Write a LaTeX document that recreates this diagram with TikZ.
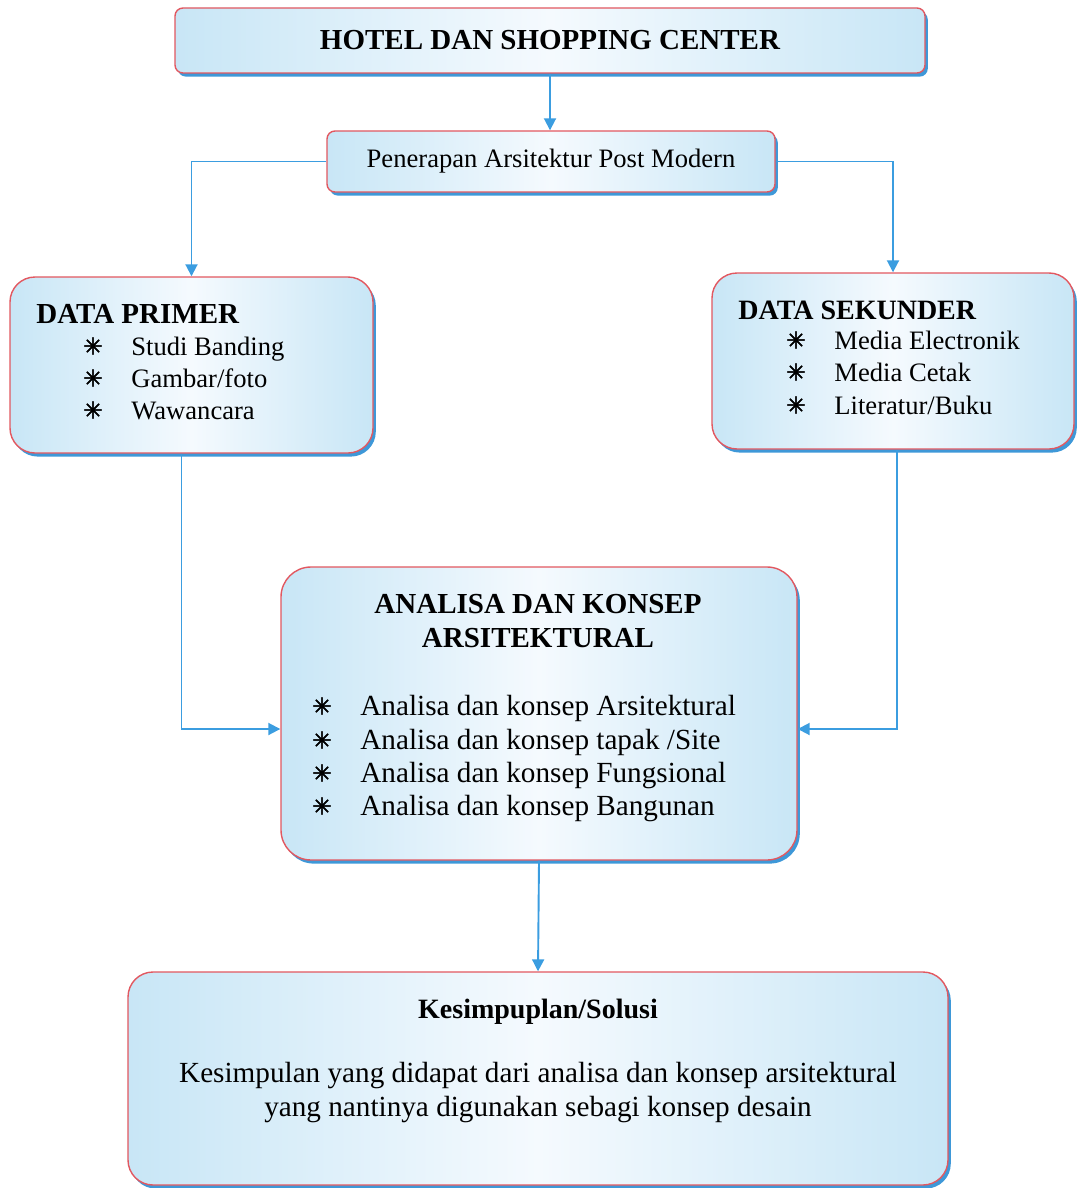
\documentclass[tikz,border=0pt]{standalone}
\usepackage{fontspec}
\setmainfont{Liberation Serif}
\newfontfamily\symfont[FakeBold=2.5]{DejaVu Sans}
\usepackage{tikz}
\usetikzlibrary{arrows.meta,shapes,shadows}
\usetikzlibrary{positioning}
\definecolor{boxblue}{RGB}{200,230,246}
\definecolor{boxwhite}{RGB}{245,250,254}
\definecolor{edgered}{RGB}{226,88,96}
\definecolor{shadeblue}{RGB}{62,152,216}
\definecolor{lineblue}{RGB}{59,157,224}
\newcommand{\bulstar}{{\symfont\fontsize{11.5}{11.5}\selectfont ✳}}

\begin{document}
\begin{tikzpicture}[x=0.5pt, y=-0.5pt]
\tikzstyle{box} = [rectangle, draw = edgered, line width=0.7pt, inner sep=0pt, left color=boxblue, right color=boxblue, middle color=boxwhite, drop shadow={shadow xshift=1.4pt, shadow yshift=-1.8pt, fill=shadeblue, opacity=1}]
\tikzstyle{line} = [draw = lineblue, line width=0.95pt, -{Triangle[length=6pt, width=6pt]}]
\tikzstyle{txt} = [inner sep=0pt, anchor=base west]
\tikzstyle{bul} = [inner sep=0pt]
\useasboundingbox (0,0) rectangle (1077,1188);
% boxes
\node (top) [box, rounded corners=4pt, minimum width=375pt, minimum height=32.5pt, font=\bfseries\fontsize{14.5}{17}\selectfont] at (550,40.5) {HOTEL DAN SHOPPING CENTER};
\node (pen) [box, rounded corners=4pt, minimum width=224pt, minimum height=30.5pt, font=\fontsize{13.3}{16}\selectfont] at (551,161.5) {Penerapan Arsitektur Post Modern};
\node (prim) [box, rounded corners=12.5pt, minimum width=181.5pt, minimum height=88pt] at (191.5,365) {};
\node (sek) [box, rounded corners=12.5pt, minimum width=181pt, minimum height=88pt] at (893,361) {};
\node (ana) [box, rounded corners=15pt, minimum width=258pt, minimum height=146.5pt] at (539,713.5) {};
\node (kes) [box, rounded corners=12.5pt, minimum width=410pt, minimum height=106.5pt] at (538,1078.5) {};
% data primer
\node (primT) [txt, font=\bfseries\fontsize{14.5}{17}\selectfont] at (36,323) {DATA PRIMER};
\node (prim1) [txt, font=\fontsize{13.3}{16}\selectfont] at (131,355) {Studi Banding};
\node (prim2) [txt, font=\fontsize{13.3}{16}\selectfont] at (131,387) {Gambar/foto};
\node (prim3) [txt, font=\fontsize{13.3}{16}\selectfont] at (131,419) {Wawancara};
\node (primS1) [bul] at (93,346) {\bulstar};
\node (primS2) [bul] at (93,378) {\bulstar};
\node (primS3) [bul] at (93,410) {\bulstar};
% data sekunder
\node (sekT) [txt, font=\bfseries\fontsize{14}{17}\selectfont] at (738,319) {DATA SEKUNDER};
\node (sek1) [txt, font=\fontsize{13.3}{16}\selectfont] at (834,349) {Media Electronik};
\node (sek2) [txt, font=\fontsize{13.3}{16}\selectfont] at (834,381) {Media Cetak};
\node (sek3) [txt, font=\fontsize{13.3}{16}\selectfont] at (834,414) {Literatur/Buku};
\node (sekS1) [bul] at (796,340) {\bulstar};
\node (sekS2) [bul] at (796,372) {\bulstar};
\node (sekS3) [bul] at (796,405) {\bulstar};
% analisa
\node (anaT) [inner sep=0pt, anchor=base, align=center, font=\bfseries\fontsize{14.5}{17}\selectfont] at (538,647) {ANALISA DAN KONSEP\\ARSITEKTURAL};
\node (ana1) [txt, font=\fontsize{14.6}{17}\selectfont] at (360,715) {Analisa dan konsep Arsitektural};
\node (ana2) [txt, font=\fontsize{14.6}{17}\selectfont] at (360,749) {Analisa dan konsep tapak /Site};
\node (ana3) [txt, font=\fontsize{14.6}{17}\selectfont] at (360,782) {Analisa dan konsep Fungsional};
\node (ana4) [txt, font=\fontsize{14.6}{17}\selectfont] at (360,815) {Analisa dan konsep Bangunan};
\node (anaS1) [bul] at (322,706) {\bulstar};
\node (anaS2) [bul] at (322,740) {\bulstar};
\node (anaS3) [bul] at (322,773) {\bulstar};
\node (anaS4) [bul] at (322,806) {\bulstar};
% kesimpulan
\node (kesT) [inner sep=0pt, anchor=base, font=\bfseries\fontsize{14}{17}\selectfont] at (538,1018) {Kesimpuplan/Solusi};
\node (kesB) [inner sep=0pt, anchor=base, align=center, font=\fontsize{14.6}{17}\selectfont] at (538,1116) {Kesimpulan yang didapat dari analisa dan konsep arsitektural\\yang nantinya digunakan sebagi konsep desain};
% connectors
\draw [line] (top.south) -- (top.south |- pen.north);
\draw [line] (pen.west) -| (prim.north);
\draw [line] (pen.east) -| (sek.north);
\draw [line] ([xshift=-5pt]prim.south) |- ([yshift=-7.75pt]ana.west);
\draw [line] ([xshift=2pt]sek.south) |- ([yshift=-7.75pt]ana.east);
\draw [line] (ana.south) -- (kes.north);
\end{tikzpicture}
\end{document}
